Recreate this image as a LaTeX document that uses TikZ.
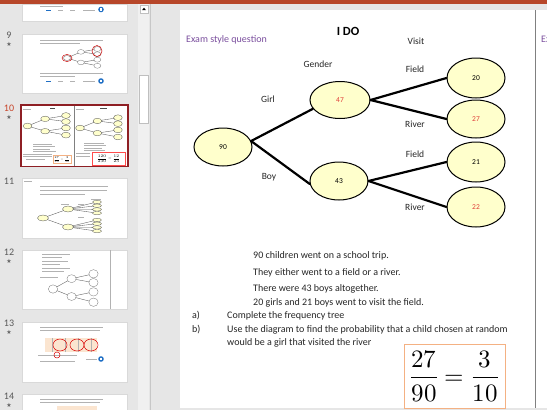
\documentclass[tikz,border=0pt]{standalone}
\usepackage{unicode-math}
\setmainfont{Carlito}
\newfontfamily\symfont{DejaVu Sans}
\usetikzlibrary{calc, positioning, shapes.geometric}
\definecolor{pptred}{HTML}{B7472A}
\definecolor{panegray}{HTML}{E6E6E6}
\definecolor{trackgray}{HTML}{F0F0F0}
\definecolor{nodeyellow}{HTML}{FFFFCC}
\definecolor{examviolet}{HTML}{7B4F9E}
\definecolor{ansred}{HTML}{E0403A}
\definecolor{numred}{HTML}{C8452A}
\definecolor{selred}{HTML}{8E1F24}
\definecolor{boxorange}{HTML}{F4B183}
\definecolor{iconblue}{HTML}{1F6FC5}
\definecolor{tablepeach}{HTML}{FBE5D0}
\newcommand{\fs}[1]{\fontsize{#1}{#1}\selectfont}

\tikzset{
  freq/.style={ellipse, draw=black, line width=1pt, fill=nodeyellow,
    minimum width=58pt, minimum height=38pt, inner sep=0pt, font=\fs{7.5}},
  ans/.style={text=ansred},
  branch/.style={line width=2.2pt, line cap=round},
  lab/.style={font=\fs{9.5}, text=black!85},
  body/.style={font=\fs{10}, text=black!85, anchor=base west, inner sep=0pt},
  thumb/.style={fill=white, draw=black!15, line width=0.4pt},
  txtline/.style={draw=black!30, line width=0.8pt},
  thumbtree/.style={draw=black!65, line width=0.35pt},
  minifill/.style={fill=nodeyellow, draw=black!70, line width=0.3pt},
  slidenum/.style={font=\fs{10}, text=black!65, inner sep=0pt},
  star/.style={font=\symfont\fs{6}, text=black!60, inner sep=0pt},
}

% small tree for a thumbnail
% 1: ellipse style
% 2: root position
% 3: x scale
% 4: y scale
\newcommand{\MiniTree}[4]{%
\begin{scope}[shift={#2}, xscale=#3, yscale=#4]
  \foreach \dy in {-47, 34}{
    \draw [thumbtree] (0,0) -- (116,\dy);
  }
  \foreach \dy/\ey in {-47/-69, -47/-29, 34/13, 34/60}{
    \draw [thumbtree] (116,\dy) -- (253,\ey);
  }
  \filldraw [#1] (0,0) ellipse [x radius=29, y radius=19];
  \foreach \dy in {-47, 34}{
    \filldraw [#1] (116,\dy) ellipse [x radius=29, y radius=18];
  }
  \foreach \ey in {-69, -29, 13, 60}{
    \filldraw [#1] (253,\ey) ellipse [x radius=29, y radius=19];
  }
\end{scope}}

\begin{document}
\begin{tikzpicture}[x=1pt, y=-1pt]
    \useasboundingbox (0,0) rectangle (547,410);
    \clip (0,0) rectangle (547,410);

    % Window background
    \fill [panegray] (0,0) rectangle (547,410);
    \fill [pptred] (0,0) rectangle (547,4);

    % Scroll bar of the slide pane
    \fill [trackgray] (138,4) rectangle (149,410);
    \draw [black!22, line width=0.6pt] (150,4) -- (150,410);
    \node [draw=black!25, fill=white, minimum size=8pt, inner sep=0pt] (scrollup) at (144,9) {};
    \fill [black] ($(scrollup)+(-2,1.2)$) -- ($(scrollup)+(2,1.2)$) -- ($(scrollup)+(0,-1.3)$) -- cycle;
    \node [draw=black!25, fill=white, minimum width=9pt, minimum height=48pt, inner sep=0pt] (scrollthumb) at (143.5,99) {};

    % The slide
    \fill [white] (180,10) rectangle (547,408);
    \draw [black!50, line width=0.8pt] (535.5,10) -- (535.5,408);
    \node [font=\fs{10}, text=examviolet, anchor=west, inner sep=0pt] (examR) at (541,40) {Exam style question};

    % Thumbnail frames
    \foreach \ty/\tb in {4/21, 34/93, 178/238, 250/309, 322/382, 394/414}{
        \draw [thumb] (22,\ty) rectangle (127,\tb);
    }
    \draw [selred, line width=1.5pt, fill=white] (20.75,104.75) rectangle (127.75,166.25);

    % Slide numbers and stars
    \foreach \num/\ny in {9/35, 11/181, 12/252, 13/323, 14/396}{
        \node [slidenum] (num\num) at (9,\ny) {\num};
    }
    \node [slidenum, text=numred] (num10) at (9,108) {10};
    \foreach \num in {9,10,12,13,14}{
        \node [star] (star\num) at ($(num\num.center)+(0,9.5)$) {★};
    }

    % Thumbnail lines of text
    \foreach \xa/\xb/\yy in {40/63/6, 40/103/40, 40/80/43.5, 40/103/73, 40/75/76.5,
        23/31/109, 33/52/144, 33/55/146.5, 33/50/149, 33/56/151.5, 23/52/154, 23/52/156.5, 26/45/159,
        76/84/109, 84/104/143, 84/106/145.5, 84/102/148, 84/105/150.5, 76/90/153, 76/90/156,
        24/32/181, 40/108/186, 40/107/190, 40/85/194,
        42/70/254, 42/62/257.5, 42/68/261, 42/60/264.5, 42/70/268, 42/64/271.5, 40/58/277,
        40/103/327, 40/100/330.5, 38/77/355, 40/75/361, 86/97/359,
        40/103/399, 40/100/402.5,
        83/95/10, 83/95/81}{
        \draw [txtline] (\xa,\yy) -- (\xb,\yy);
    }
    % small marks and icons
    \foreach \yy in {10, 81}{
        \draw [iconblue, line width=0.8pt] (46,\yy) -- (51,\yy);
        \draw [txtline] (58,\yy) -- (63,\yy);
        \draw [txtline] (70,\yy) -- (75,\yy);
    }
    \foreach \yy in {9.5, 81, 359}{
        \fill [iconblue] (101,\yy) circle (2.8);
        \draw [white, line width=0.5pt] (100.3,\yy-1.4) -- (100.3,\yy+1.4) (101.7,\yy-1.4) -- (101.7,\yy+1.4);
    }

    % Thumbnail 9
    \MiniTree{fill=white, draw=black!55, line width=0.3pt}{(67,58)}{0.12}{0.13}
    \draw [red!80!black, line width=0.5pt] (67,58) ellipse [x radius=5, y radius=3.5];
    \draw [red!80!black, line width=0.5pt] (97,51) ellipse [x radius=5, y radius=5.5];

    % Thumbnail 10
    \draw [black!50, line width=0.3pt] (74,105.5) -- (74,165.5);
    \draw [black!70, line width=0.6pt] (50,108) -- (55,108) (100,108) -- (107,108);
    \MiniTree{minifill}{(27.5,126)}{0.152}{0.152}
    \MiniTree{minifill}{(80,128)}{0.15}{0.15}
    \node [draw=boxorange, line width=0.3pt, inner sep=0.8pt, font=\fs{3}] (thumbans) at (62,159.5) {$\displaystyle\frac{27}{90}=\frac{3}{10}$};
    \node [draw=red!70, line width=0.3pt, minimum width=33pt, minimum height=13pt, inner sep=0pt, font=\fs{4}] (thumbans2) at (108.5,158.5) {$\displaystyle\frac{120}{230}=\frac{12}{23}$};

    % Thumbnail 11
    \coordinate (t11root) at (43,218);
    \foreach \my in {209, 227}{
        \draw [thumbtree] (t11root) -- (68,\my);
    }
    \foreach \my/\ry in {209/202, 209/205.7, 209/209.4, 209/213.1, 227/220, 227/223.7, 227/227.4, 227/231.1}{
        \draw [thumbtree] (68,\my) -- (97,\ry);
    }
    \foreach \ry in {202, 205.7, 209.4, 213.1, 220, 223.7, 227.4, 231.1}{
        \filldraw [minifill] (97,\ry) ellipse [x radius=4.5, y radius=1.7];
    }
    \foreach \my in {209, 227}{
        \filldraw [minifill] (68,\my) ellipse [x radius=5.5, y radius=3];
    }
    \filldraw [minifill] (t11root) ellipse [x radius=5.5, y radius=3];
    \draw [txtline, line width=0.6pt] (61,204) -- (69,204) (91,199) -- (101,199) (78,204) -- (84,204) (78,217) -- (84,217);

    % Thumbnail 12
    \draw [black!30, line width=0.4pt] (110,250) -- (110,309);
    \MiniTree{fill=white, draw=black!55, line width=0.3pt}{(53,289)}{0.16}{0.22}

    % Thumbnail 13 and 14
    \fill [tablepeach] (45,338) rectangle (97,352);
    \draw [black!30, line width=0.3pt] (45,338) grid[xstep=13, ystep=4.667] (97,352);
    \foreach \cx in {60, 77, 91}{
        \draw [red!85!black, line width=0.5pt] (\cx,345) ellipse [x radius=7, y radius=6];
    }
    \draw [red!85!black, line width=0.5pt] (57,355) circle (3);
    \fill [tablepeach] (57,406) rectangle (97,412);

    % The frequency tree
    \node [freq] (n90) at (223,147) {90};
    \node [freq, ans, minimum width=60pt, minimum height=37pt] (n47) at (340,100) {47};
    \node [freq] (n43) at (339,181) {43};
    \node [freq, minimum height=40pt] (n20) at (476,78) {20};
    \node [freq, ans] (n27) at (476,119) {27};
    \node [freq, minimum height=40pt] (n21) at (476,162) {21};
    \node [freq, ans, minimum height=40pt] (n22) at (476,207) {22};
    \draw [branch] (n90.12) -- (n47.198);
    \draw [branch] (n90.12) -- (n43.186);
    \foreach \fromN/\toN in {n47/n20, n47/n27, n43/n21, n43/n22}{
        \draw [branch] (\fromN.east) -- (\toN.west);
    }

    % Titles and branch labels
    \node [font=\fs{10}, text=examviolet, anchor=west, inner sep=0pt] (exam) at (186,40) {Exam style question};
    \node [font=\bfseries\fs{12.5}] (ido) at (348,31) {I DO};
    \node [lab] (lvisit) at (416,41) {Visit};
    \node [lab] (lgender) at (318,64) {Gender};
    \node [lab] (lfield1) at (415,69) {Field};
    \node [lab] (lgirl) at (268,99) {Girl};
    \node [lab] (lriver1) at (415,124) {River};
    \node [lab] (lfield2) at (415,154) {Field};
    \node [lab] (lboy) at (269,177) {Boy};
    \node [lab] (lriver2) at (415,207) {River};

    % The question
    \node [body] (q1) at (253,258) {90 children went on a school trip.};
    \node [body] (q2) at (253,275) {They either went to a field or a river.};
    \node [body] (q3) at (253,291.5) {There were 43 boys altogether.};
    \node [body] (q4) at (253,305) {20 girls and 21 boys went to visit the field.};
    \node [body] (qa) at (192,318.5) {a)};
    \node [body] (qatext) at (227,318.5) {Complete the frequency tree};
    \node [body] (qb) at (192,332.5) {b)};
    \node [body] (qbtext) at (227,332.5) {Use the diagram to find the probability that a child chosen at random};
    \node [body] (qbtext2) at (227,345) {would be a girl that visited the river};

    % The answer
    \node [draw=boxorange, line width=0.9pt, minimum width=101pt, minimum height=64pt, inner sep=0pt, font=\fs{25}] (answer) at (454.5,376) {$\displaystyle\frac{27}{90}=\frac{3}{10}$};

\end{tikzpicture}
\end{document}
